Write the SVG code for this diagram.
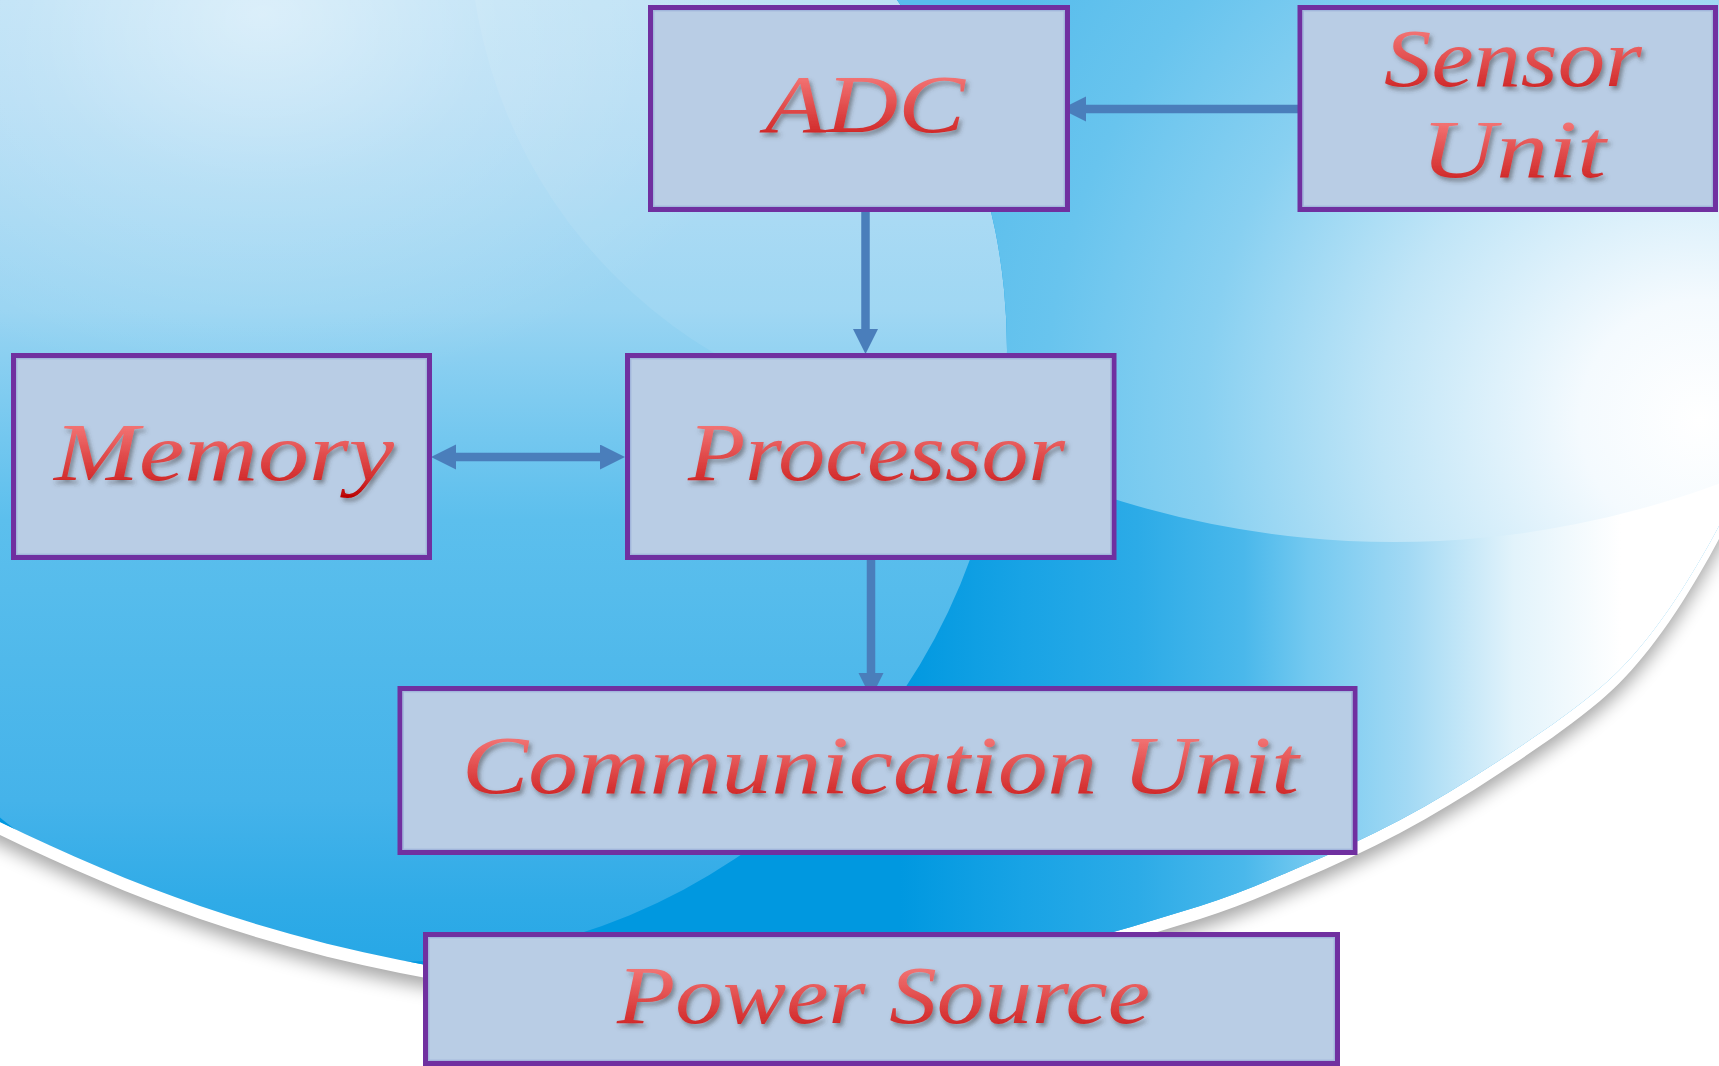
<svg xmlns="http://www.w3.org/2000/svg" xmlns:xlink="http://www.w3.org/1999/xlink" width="1719" height="1066" viewBox="0 0 1719 1066">
  <defs>
    <style>
      .box { fill: #b9cde5; stroke: #7030a0; stroke-width: 5; }
      .inner { fill: none; stroke: #a2b6dc; stroke-width: 1.4; }
      .lbl { font-family: "Liberation Serif", "Times New Roman", serif; font-style: italic; font-size: 83px; fill: url(#redText); filter: url(#txtShadow); }
      .conn { stroke: #4a7ebb; stroke-width: 8.5; fill: none; }
    </style>

    <!-- label fill: light coral at top, deep red at the descenders -->
    <linearGradient id="redText" x1="0" y1="0" x2="0" y2="1">
      <stop offset="0" stop-color="#f57c7c"/>
      <stop offset="0.22" stop-color="#f27272"/>
      <stop offset="0.8" stop-color="#d22c2c"/>
      <stop offset="1" stop-color="#b80000"/>
    </linearGradient>
    <filter id="txtShadow" x="-10%" y="-20%" width="120%" height="150%">
      <feDropShadow dx="2.5" dy="3.5" stdDeviation="2" flood-color="#3a3a3a" flood-opacity="0.5"/>
    </filter>

    <!-- background disk: smooth lower edge -->
    <path id="disk" d="M -100,760
      C -66.7,780.7 -33.3,805.8 0,822
      C 66.7,854.5 133.3,883 200,906
      C 266.7,929 333.3,946.8 400,960
      C 466.7,973.2 533.3,980.8 600,985
      C 666.7,989.2 733.3,989.2 800,985
      C 866.7,980.8 933.3,973.2 1000,960
      C 1066.7,946.8 1133.3,926.7 1200,906
      C 1233.3,895.7 1266.7,881.3 1300,867
      C 1333.3,852.7 1366.7,837.8 1400,820
      C 1433.3,802.2 1466.7,782 1500,760
      C 1533.3,738 1566.7,715.8 1600,688
      C 1616.7,674.1 1633.3,656.3 1650,635
      C 1666.7,613.7 1683.3,588.7 1700,560
      C 1716.7,531.3 1733.3,499.7 1750,463
      C 1766.7,426.3 1783.3,381 1800,340
      L 1820,-50 L -100,-50 Z"/>
    <clipPath id="diskClip"><use xlink:href="#disk"/></clipPath>
    <clipPath id="clipC"><circle cx="1394" cy="-392" r="934"/></clipPath>
    <filter id="softShadow" x="-5%" y="-5%" width="110%" height="115%">
      <feGaussianBlur stdDeviation="9"/>
    </filter>

    <linearGradient id="baseGrad" gradientUnits="userSpaceOnUse" x1="0" y1="0" x2="0" y2="1000">
      <stop offset="0" stop-color="#b8dff5"/>
      <stop offset="0.1" stop-color="#b0dbf4"/>
      <stop offset="0.31" stop-color="#98d4f2"/>
      <stop offset="0.4" stop-color="#7ecbf0"/>
      <stop offset="0.52" stop-color="#5cbfed"/>
      <stop offset="0.66" stop-color="#50b9eb"/>
      <stop offset="0.8" stop-color="#45b3ea"/>
      <stop offset="0.9" stop-color="#30abe7"/>
      <stop offset="1" stop-color="#22a5e5"/>
    </linearGradient>
    <radialGradient id="glow" gradientUnits="objectBoundingBox" cx="0.5" cy="0.5" r="0.5">
      <stop offset="0" stop-color="#ffffff" stop-opacity="0.5"/>
      <stop offset="0.45" stop-color="#ffffff" stop-opacity="0.2"/>
      <stop offset="1" stop-color="#ffffff" stop-opacity="0"/>
    </radialGradient>
    <linearGradient id="lowGrad" gradientUnits="userSpaceOnUse" x1="900" y1="0" x2="1719" y2="0">
      <stop offset="0" stop-color="#0098e0"/>
      <stop offset="0.15" stop-color="#18a3e5"/>
      <stop offset="0.29" stop-color="#2cabe7"/>
      <stop offset="0.42" stop-color="#4ab8eb"/>
      <stop offset="0.5" stop-color="#74c9f0"/>
      <stop offset="0.62" stop-color="#a2d9f4"/>
      <stop offset="0.75" stop-color="#e2f3fb"/>
      <stop offset="0.88" stop-color="#ffffff"/>
    </linearGradient>
    <radialGradient id="upGrad" gradientUnits="userSpaceOnUse" cx="1700" cy="420" r="800">
      <stop offset="0" stop-color="#ffffff"/>
      <stop offset="0.15" stop-color="#f4fafe"/>
      <stop offset="0.4" stop-color="#c0e5f7"/>
      <stop offset="0.62" stop-color="#88d0f1"/>
      <stop offset="0.82" stop-color="#68c4ee"/>
      <stop offset="1" stop-color="#58bdec"/>
    </radialGradient>

    <marker id="head" markerUnits="userSpaceOnUse" markerWidth="26" markerHeight="26" refX="0" refY="12.5" orient="auto-start-reverse">
      <path d="M0,0 L25,12.5 L0,25 Z" fill="#4a7ebb"/>
    </marker>
  </defs>

  <!-- backdrop -->
  <g id="background">
    <rect x="0" y="0" width="1719" height="1066" fill="#ffffff"/>
    <use xlink:href="#disk" transform="translate(0,22)" fill="#000000" opacity="0.35" filter="url(#softShadow)"/>
    <use xlink:href="#disk" transform="translate(0,13)" fill="#ffffff"/>
    <g clip-path="url(#diskClip)">
      <rect x="-100" y="-50" width="1920" height="1150" fill="url(#baseGrad)"/>
      <ellipse cx="263" cy="14" rx="520" ry="380" fill="url(#glow)"/>
      <circle cx="969" cy="-77" r="500" fill="#ffffff" opacity="0.08"/>
      <path fill-rule="evenodd" fill="url(#lowGrad)" d="M -100,-50 H 1820 V 1150 H -100 Z M -217,350 A 612,612 0 1,0 1007,350 A 612,612 0 1,0 -217,350 Z"/>
      <path fill-rule="evenodd" fill="url(#upGrad)" clip-path="url(#clipC)" d="M -100,-50 H 1820 V 1150 H -100 Z M -217,350 A 612,612 0 1,0 1007,350 A 612,612 0 1,0 -217,350 Z"/>
    </g>
  </g>

  <!-- connectors -->
  <g id="connectors">
    <line class="conn" x1="1298" y1="109" x2="1086" y2="109" marker-end="url(#head)"/>
    <line class="conn" x1="865.5" y1="211" x2="865.5" y2="329" marker-end="url(#head)"/>
    <line class="conn" x1="456" y1="457" x2="600" y2="457" marker-start="url(#head)" marker-end="url(#head)"/>
    <line class="conn" x1="871" y1="559" x2="871" y2="673" marker-end="url(#head)"/>
  </g>

  <g id="adc">
    <rect class="box" x="650.5" y="7.5" width="417" height="202"/>
    <rect class="inner" x="653.7" y="10.7" width="410.6" height="195.6"/>
    <text class="lbl" x="765" y="132" textLength="200" lengthAdjust="spacingAndGlyphs">ADC</text>
  </g>

  <g id="sensor-unit">
    <rect class="box" x="1300" y="7.5" width="415.5" height="202"/>
    <rect class="inner" x="1303.2" y="10.7" width="409.1" height="195.6"/>
    <text class="lbl" x="1384" y="86" textLength="258" lengthAdjust="spacingAndGlyphs">Sensor</text>
    <text class="lbl" x="1421" y="177" textLength="185" lengthAdjust="spacingAndGlyphs">Unit</text>
  </g>

  <g id="memory">
    <rect class="box" x="13.5" y="355.5" width="416" height="202"/>
    <rect class="inner" x="16.7" y="358.7" width="409.6" height="195.6"/>
    <text class="lbl" x="54" y="480" textLength="340" lengthAdjust="spacingAndGlyphs">Memory</text>
  </g>

  <g id="processor">
    <rect class="box" x="627.5" y="355.5" width="486.5" height="202"/>
    <rect class="inner" x="630.7" y="358.7" width="480.1" height="195.6"/>
    <text class="lbl" x="688" y="480" textLength="377" lengthAdjust="spacingAndGlyphs">Processor</text>
  </g>

  <g id="communication-unit">
    <rect class="box" x="400" y="688.5" width="955" height="164"/>
    <rect class="inner" x="403.2" y="691.7" width="948.6" height="157.6"/>
    <text class="lbl" x="462" y="793" textLength="837" lengthAdjust="spacingAndGlyphs">Communication Unit</text>
  </g>

  <g id="power-source">
    <rect class="box" x="425.5" y="934.5" width="912" height="129"/>
    <rect class="inner" x="428.7" y="937.7" width="905.6" height="122.6"/>
    <text class="lbl" x="617" y="1023" textLength="533" lengthAdjust="spacingAndGlyphs">Power Source</text>
  </g>
</svg>
